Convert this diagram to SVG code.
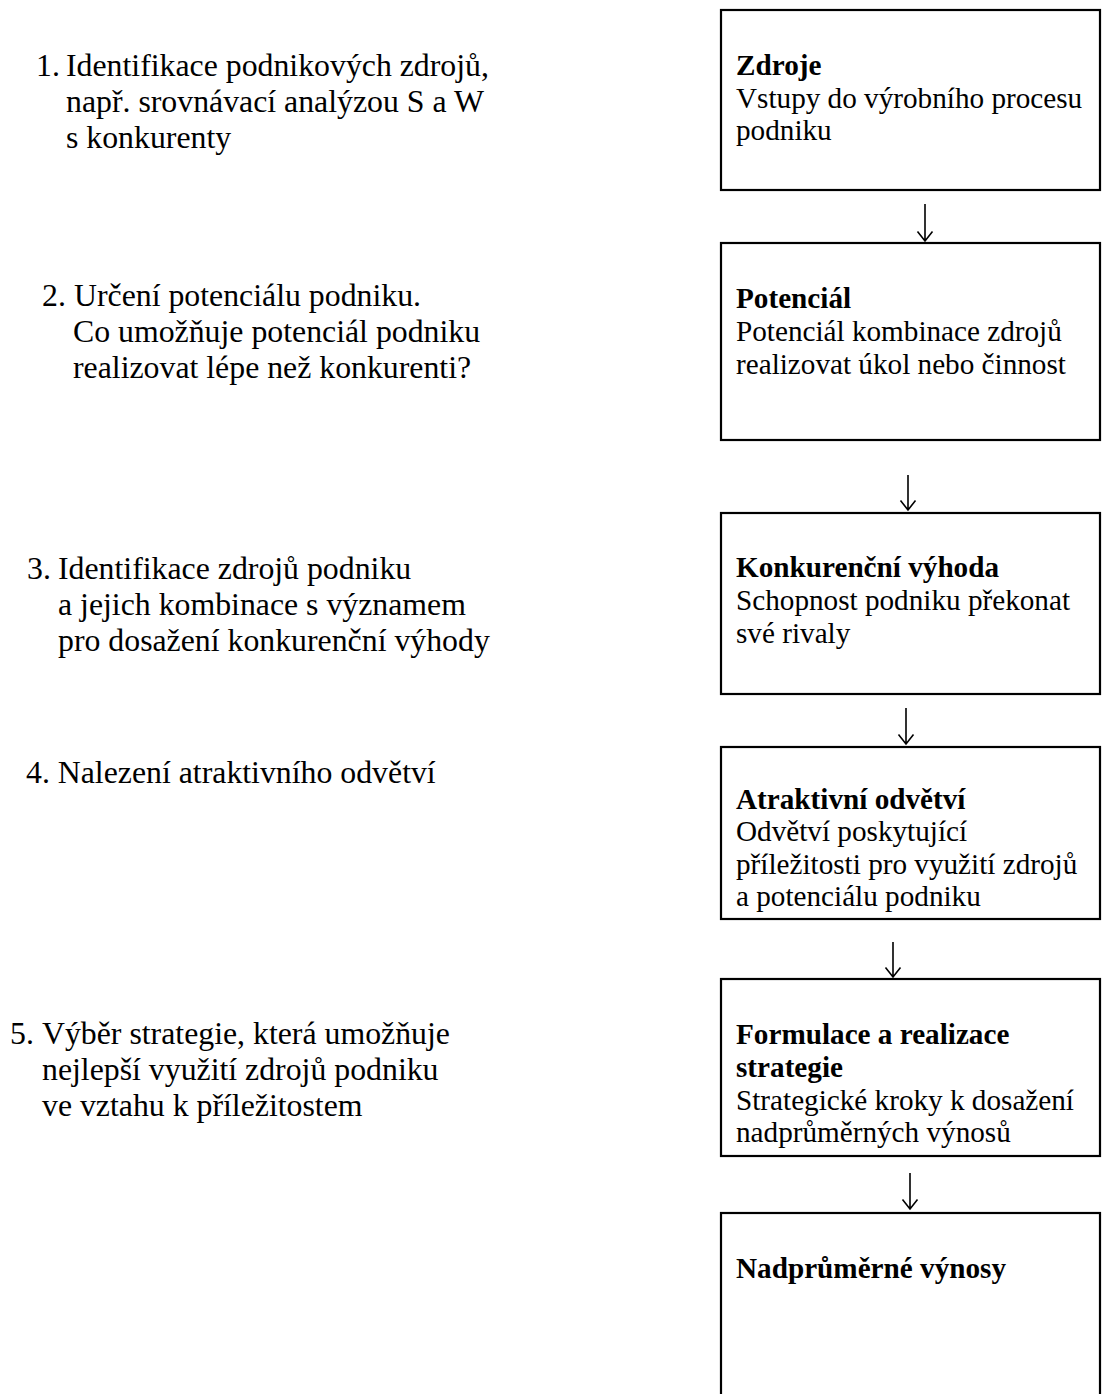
<svg xmlns="http://www.w3.org/2000/svg" width="1102" height="1394" viewBox="0 0 1102 1394">
  <style>
    .step { font-family: "Liberation Serif", "Times New Roman", serif; font-size: 31.8px; fill: #000; }
    .box { fill: #fff; stroke: #000; stroke-width: 2.2; }
    .title { font-family: "Liberation Serif", "Times New Roman", serif; font-size: 29.2px; font-weight: bold; fill: #000; }
    .desc { font-family: "Liberation Serif", "Times New Roman", serif; font-size: 29.2px; fill: #000; }
    .arrow { fill: none; stroke: #000; stroke-width: 1.6; stroke-linejoin: miter; }
  </style>
  <rect width="1102" height="1394" fill="#fff"/>

  <!-- steps on the left -->
  <g id="step1">
    <text class="step" x="36" y="76">1.</text>
    <text class="step" x="66" y="76">Identifikace podnikových zdrojů,</text>
    <text class="step" x="66" y="112">např. srovnávací analýzou S a W</text>
    <text class="step" x="66" y="148">s konkurenty</text>
  </g>
  <g id="step2">
    <text class="step" x="42" y="306">2.</text>
    <text class="step" x="74" y="306">Určení potenciálu podniku.</text>
    <text class="step" x="73" y="342">Co umožňuje potenciál podniku</text>
    <text class="step" x="73" y="378">realizovat lépe než konkurenti?</text>
  </g>
  <g id="step3">
    <text class="step" x="27" y="579">3.</text>
    <text class="step" x="58" y="579">Identifikace zdrojů podniku</text>
    <text class="step" x="58" y="615">a jejich kombinace s významem</text>
    <text class="step" x="58" y="651">pro dosažení konkurenční výhody</text>
  </g>
  <g id="step4">
    <text class="step" x="26" y="783">4. Nalezení atraktivního odvětví</text>
  </g>
  <g id="step5">
    <text class="step" x="10" y="1044">5.</text>
    <text class="step" x="42" y="1044">Výběr strategie, která umožňuje</text>
    <text class="step" x="42" y="1080">nejlepší využití zdrojů podniku</text>
    <text class="step" x="42" y="1116">ve vztahu k příležitostem</text>
  </g>

  <!-- boxes on the right -->
  <g id="zdroje">
    <rect class="box" x="721" y="10" width="379" height="180"/>
    <text class="title" x="736" y="75">Zdroje</text>
    <text class="desc" x="736" y="108">Vstupy do výrobního procesu</text>
    <text class="desc" x="736" y="140">podniku</text>
  </g>
  <g id="potencial">
    <rect class="box" x="721" y="243" width="379" height="197"/>
    <text class="title" x="736" y="308">Potenciál</text>
    <text class="desc" x="736" y="341">Potenciál kombinace zdrojů</text>
    <text class="desc" x="736" y="374">realizovat úkol nebo činnost</text>
  </g>
  <g id="konkurencni-vyhoda">
    <rect class="box" x="721" y="513" width="379" height="181"/>
    <text class="title" x="736" y="577">Konkurenční výhoda</text>
    <text class="desc" x="736" y="610">Schopnost podniku překonat</text>
    <text class="desc" x="736" y="643">své rivaly</text>
  </g>
  <g id="atraktivni-odvetvi">
    <rect class="box" x="721" y="747" width="379" height="172"/>
    <text class="title" x="736" y="809">Atraktivní odvětví</text>
    <text class="desc" x="736" y="841">Odvětví poskytující</text>
    <text class="desc" x="736" y="874">příležitosti pro využití zdrojů</text>
    <text class="desc" x="736" y="906">a potenciálu podniku</text>
  </g>
  <g id="strategie">
    <rect class="box" x="721" y="979" width="379" height="177"/>
    <text class="title" x="736" y="1044">Formulace a realizace</text>
    <text class="title" x="736" y="1077">strategie</text>
    <text class="desc" x="736" y="1110">Strategické kroky k dosažení</text>
    <text class="desc" x="736" y="1142">nadprůměrných výnosů</text>
  </g>
  <g id="vynosy">
    <rect class="box" x="721" y="1213" width="379" height="200"/>
    <text class="title" x="736" y="1278">Nadprůměrné výnosy</text>
  </g>

  <!-- connectors -->
  <g id="connectors">
    <path class="arrow" d="M925 204 V241 M917.5 231.5 L925 241 L932.5 231.5"/>
    <path class="arrow" d="M908 475 V510 M900.5 500.5 L908 510 L915.5 500.5"/>
    <path class="arrow" d="M906 708 V744 M898.5 734.5 L906 744 L913.5 734.5"/>
    <path class="arrow" d="M893 942 V977 M885.5 967.5 L893 977 L900.5 967.5"/>
    <path class="arrow" d="M910 1173 V1209 M902.5 1199.5 L910 1209 L917.5 1199.5"/>
  </g>
</svg>
